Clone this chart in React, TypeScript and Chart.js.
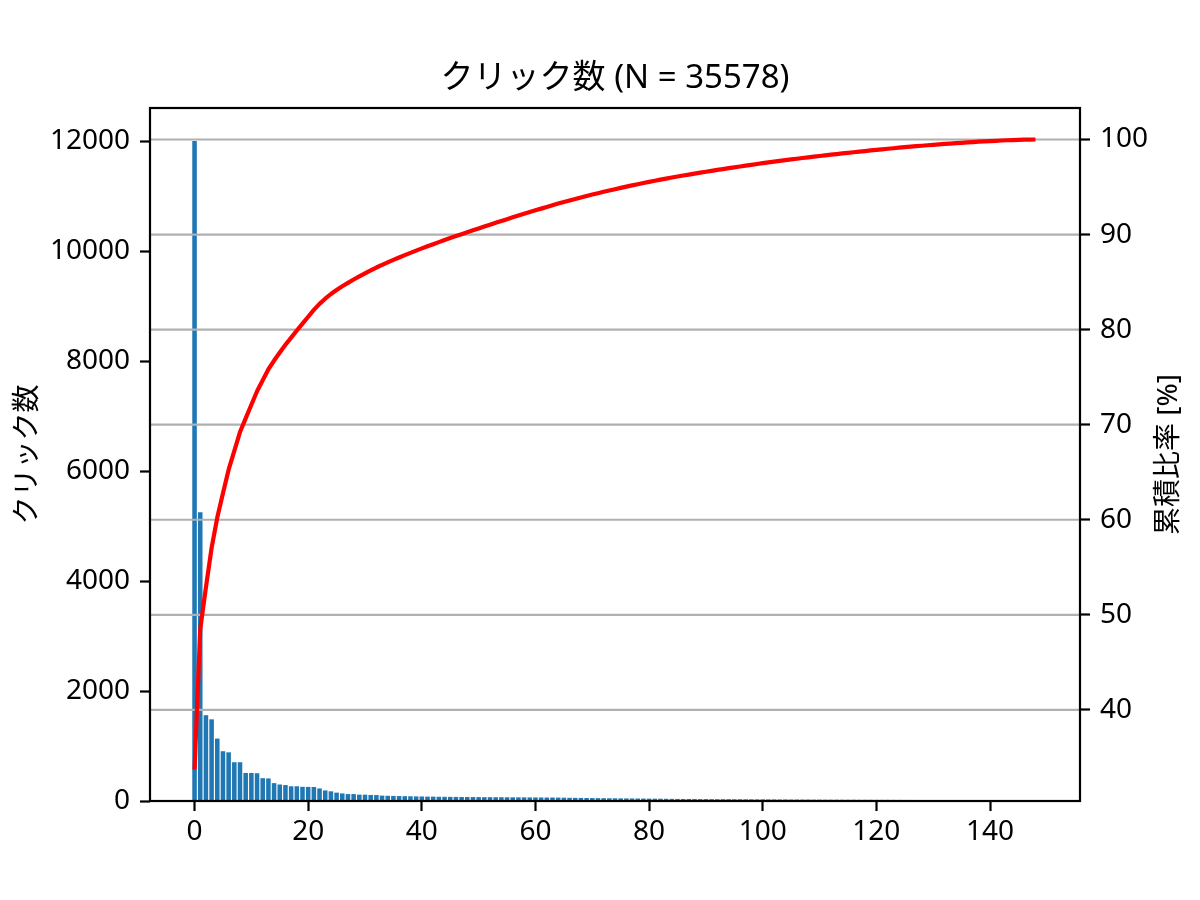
import { useEffect, useRef } from "react";
import { Chart, registerables } from "chart.js";

Chart.register(...registerables);

// clicks per item, sorted descending (Pareto)
const clickCounts = [
  12000, 5250, 1560, 1485, 1135, 905, 885, 705, 705, 510,
  510, 505, 415, 410, 325, 300, 290, 268, 268, 258,
  256, 255, 228, 192, 176, 152, 138, 126, 126, 116,
  115, 110, 108, 98, 95, 92, 90, 88, 86, 84,
  82, 80, 79, 77, 76, 75, 74, 73, 72, 72,
  71, 70, 70, 69, 69, 68, 67, 67, 66, 65,
  65, 64, 63, 63, 62, 60, 58, 57, 56, 54,
  53, 52, 51, 50, 49, 48, 47, 46, 45, 44,
  43, 42, 41, 40, 39, 38, 37, 37, 36, 35,
  35, 34, 33, 33, 33, 32, 32, 31, 31, 30,
  30, 29, 29, 28, 28, 27, 27, 26, 26, 25,
  25, 24, 24, 24, 23, 23, 23, 22, 22, 22,
  21, 21, 21, 20, 20, 19, 19, 18, 18, 17,
  17, 16, 16, 15, 15, 14, 14, 13, 13, 12,
  12, 11, 10, 9, 8, 7, 6, 5, 3,
];
const xTicks = [0, 20, 40, 60, 80, 100, 120, 140];
const countTicks = [0, 2000, 4000, 6000, 8000, 10000, 12000];
const pctTicks = [40, 50, 60, 70, 80, 90, 100];

const total = clickCounts.reduce((a, b) => a + b, 0);
const cumPct: number[] = [];
let running = 0;
for (const c of clickCounts) {
  running += c;
  cumPct.push((running / total) * 100);
}

const FONT = "'Noto Sans', 'Noto Sans CJK JP', sans-serif";
const LW = 2.2;

// matplotlib-like 5% margins
const xLo = -0.4;
const xHi = clickCounts.length - 1 + 0.4;
const xPad = (xHi - xLo) * 0.05;
const yMax = Math.max(...clickCounts) * 1.05;
const pPad = (100 - cumPct[0]) * 0.05;

const overlay = {
  id: "overlay",
  afterDatasetDraw(chart: any, args: any) {
    if (args.index !== 0) return;
    const { ctx, chartArea } = chart;
    const y1 = chart.scales.y1;
    ctx.save();
    ctx.strokeStyle = "#b0b0b0";
    ctx.lineWidth = LW;
    for (const v of pctTicks) {
      const y = y1.getPixelForValue(v);
      ctx.beginPath();
      ctx.moveTo(chartArea.left, y);
      ctx.lineTo(chartArea.right, y);
      ctx.stroke();
    }
    ctx.restore();
  },
  afterDatasetsDraw(chart: any) {
    const { ctx, chartArea } = chart;
    ctx.save();
    ctx.strokeStyle = "#000";
    ctx.lineWidth = LW;
    ctx.strokeRect(
      chartArea.left,
      chartArea.top,
      chartArea.right - chartArea.left,
      chartArea.bottom - chartArea.top
    );
    ctx.restore();
  },
  afterDraw(chart: any) {
    const { ctx, chartArea } = chart;
    const cx = (chartArea.left + chartArea.right) / 2;
    const cy = (chartArea.top + chartArea.bottom) / 2;
    ctx.save();
    ctx.fillStyle = "#000";
    ctx.textAlign = "center";
    ctx.textBaseline = "alphabetic";
    ctx.font = `33px ${FONT}`;
    ctx.fillText(`クリック数 (N = ${total})`, cx, 88);

    ctx.font = `28px ${FONT}`;
    ctx.textBaseline = "middle";
    ctx.save();
    ctx.translate(28, cy);
    ctx.rotate(-Math.PI / 2);
    ctx.fillText("クリック数", 0, 0);
    ctx.restore();
    ctx.save();
    ctx.translate(1169, cy);
    ctx.rotate(-Math.PI / 2);
    ctx.fillText("累積比率 [%]", 0, 0);
    ctx.restore();
    ctx.restore();
  },
};

const tickGrid = {
  display: true,
  drawOnChartArea: false,
  drawTicks: true,
  tickColor: "#000",
  tickWidth: LW,
  tickLength: 10,
};

export default function App() {
  const canvasRef = useRef<HTMLCanvasElement>(null);
  const chartRef = useRef<Chart | null>(null);

  useEffect(() => {
    if (!canvasRef.current) return;
    chartRef.current?.destroy();
    chartRef.current = new Chart(canvasRef.current, {
      type: "bar",
      data: {
        datasets: [
          {
            type: "bar",
            label: "クリック数",
            data: clickCounts.map((v, i) => ({ x: i, y: v })),
            backgroundColor: "#1f77b4",
            borderWidth: 0,
            barPercentage: 0.8,
            categoryPercentage: 1.0,
            yAxisID: "y",
            order: 2,
          },
          {
            type: "line",
            label: "累積比率",
            data: cumPct.map((v, i) => ({ x: i, y: v })),
            borderColor: "#ff0000",
            borderWidth: 4.2,
            pointRadius: 0,
            tension: 0,
            fill: false,
            borderJoinStyle: "round",
            yAxisID: "y1",
            order: 1,
          },
        ] as any,
      },
      options: {
        responsive: false,
        devicePixelRatio: 1,
        animation: false,
        layout: { padding: { top: 108, left: 0, right: 0, bottom: 0 } },
        plugins: {
          legend: { display: false },
          tooltip: { enabled: false },
          title: { display: false },
        },
        scales: {
          x: {
            type: "linear",
            offset: false,
            min: xLo - xPad,
            max: xHi + xPad,
            afterBuildTicks: (s: any) => {
              s.ticks = xTicks.map((v) => ({ value: v }));
            },
            afterFit: (s: any) => {
              s.height = 99;
            },
            grid: { ...tickGrid, offset: false },
            border: { display: false },
            ticks: {
              autoSkip: false,
              maxRotation: 0,
              padding: 4,
              color: "#000",
              font: { family: FONT, size: 28 },
              callback: (v: any) => String(v),
            },
          },
          y: {
            type: "linear",
            position: "left",
            min: 0,
            max: yMax,
            afterBuildTicks: (s: any) => {
              s.ticks = countTicks.map((v) => ({ value: v }));
            },
            afterFit: (s: any) => {
              s.width = 150;
            },
            grid: tickGrid,
            border: { display: false },
            ticks: {
              padding: 10,
              color: "#000",
              font: { family: FONT, size: 28 },
              callback: (v: any) => String(v),
            },
          },
          y1: {
            type: "linear",
            position: "right",
            min: cumPct[0] - pPad,
            max: 100 + pPad,
            afterBuildTicks: (s: any) => {
              s.ticks = pctTicks.map((v) => ({ value: v }));
            },
            afterFit: (s: any) => {
              s.width = 120;
            },
            grid: tickGrid,
            border: { display: false },
            ticks: {
              padding: 10,
              color: "#000",
              font: { family: FONT, size: 28 },
              callback: (v: any) => String(v),
            },
          },
        },
      },
      plugins: [overlay],
    } as any);
    return () => chartRef.current?.destroy();
  }, []);

  return (
    <div
      style={{
        position: "absolute",
        left: 0,
        top: 0,
        width: 1200,
        height: 900,
        background: "#fff",
      }}
    >
      <canvas ref={canvasRef} width={1200} height={900} style={{ display: "block" }} />
    </div>
  );
}
